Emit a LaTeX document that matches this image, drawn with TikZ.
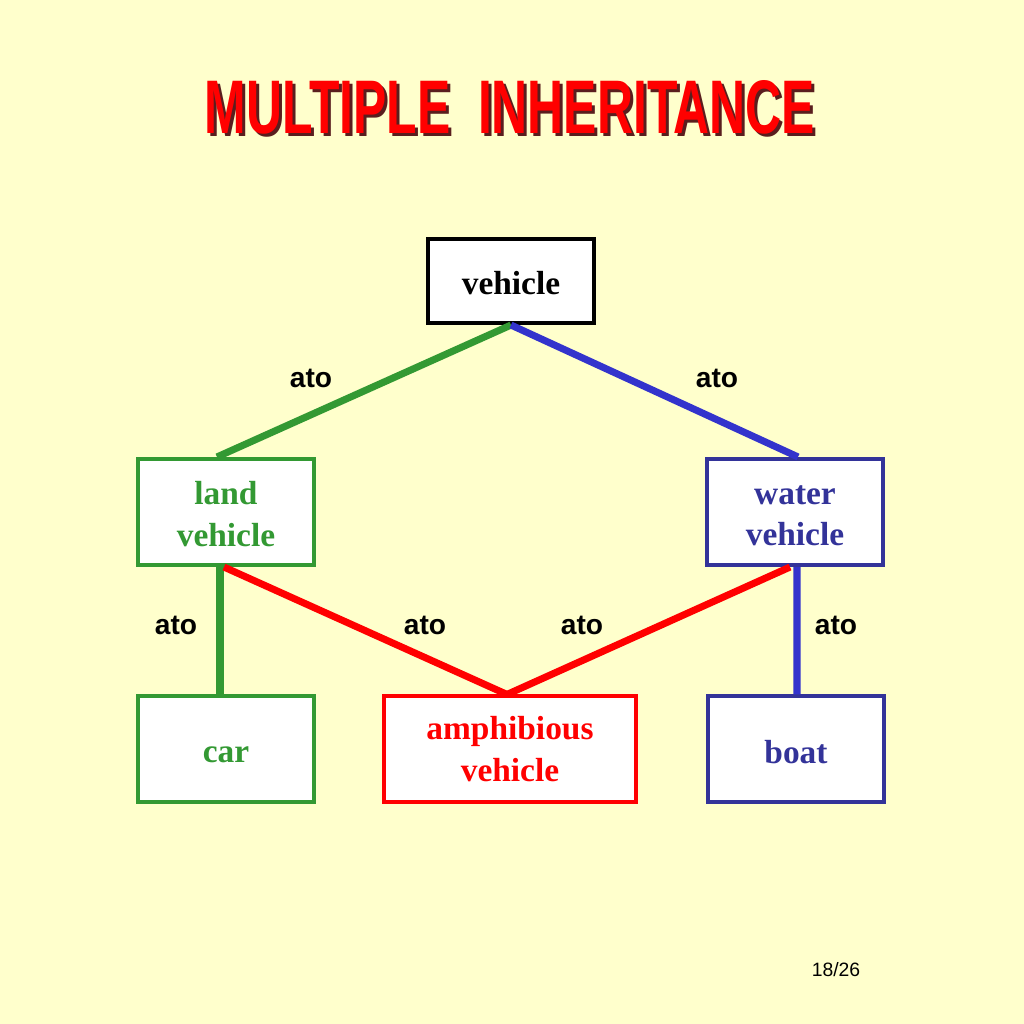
\documentclass[tikz,border=0pt]{standalone}
\usepackage{fontspec}
\setmainfont{Liberation Serif}
\setsansfont{Liberation Sans}
\usepackage{tikz}

\definecolor{paper}{RGB}{255,255,204}
\definecolor{landgreen}{RGB}{51,153,51}
\definecolor{waterblue}{RGB}{51,51,153}
\definecolor{lineblue}{RGB}{51,51,204}
\definecolor{titleshadow}{RGB}{90,30,30}

\tikzset{
  classbox/.style={draw, line width=1.15pt, fill=white, align=center,
    minimum width=1.76cm, minimum height=1.06cm, inner sep=0pt,
    font=\bfseries\fontsize{9.5}{11.7}\selectfont},
  link/.style={line width=2pt},
  atolabel/.style={font=\sffamily\bfseries\fontsize{8}{9}\selectfont}
}

\newcommand{\titletext}{\resizebox{6.1cm}{0.53cm}{\sffamily\bfseries MULTIPLE\ \ INHERITANCE}}
\newcommand{\lowered}[2]{\raisebox{-#1}[\height][\depth]{#2}}

\begin{document}
\begin{tikzpicture}[x=0.01cm, y=-0.01cm]
    \fill[paper] (0,0) rectangle (1024,1024);
    \useasboundingbox (0,0) rectangle (1024,1024);

    % title
    \node[text=titleshadow, inner sep=0pt] (titleshade) at (513,110) {\titletext};
    \node[text=red, inner sep=0pt] (title) at (510,107) {\titletext};

    % classes
    \node[classbox, minimum width=1.66cm, minimum height=0.84cm] (vehicle) at (511,281) {\lowered{0.02cm}{vehicle}};
    \node[classbox, draw=landgreen, text=landgreen] (land) at (226,512) {\lowered{0.02cm}{land}\\\lowered{0.02cm}{vehicle}};
    \node[classbox, draw=waterblue, text=waterblue] (water) at (795,512) {\lowered{0.04cm}{water}\\\lowered{0.04cm}{vehicle}};
    \node[classbox, draw=landgreen, text=landgreen, minimum height=1.05cm] (car) at (226,749) {\lowered{0.06cm}{car}};
    \node[classbox, draw=red, text=red, minimum width=2.51cm, minimum height=1.05cm] (amphi) at (510,749) {amphibious\\vehicle};
    \node[classbox, draw=waterblue, text=waterblue, minimum height=1.05cm] (boat) at (796,749) {\lowered{0.03cm}{boat}};

    % ato links
    \draw[link, landgreen] (vehicle.south) -- ([xshift=-0.09cm]land.north);
    \draw[link, lineblue] (vehicle.south) -- ([xshift=0.03cm]water.north);
    \draw[link, landgreen] ([xshift=-0.06cm]land.south) -- ([xshift=-0.06cm]car.north);
    \draw[link, red] ([xshift=-0.02cm]land.south) -- ([xshift=-0.03cm]amphi.north);
    \draw[link, red] ([xshift=-0.05cm]water.south) -- ([xshift=-0.03cm]amphi.north);
    \draw[link, lineblue] ([xshift=0.02cm]water.south) -- ([xshift=0.01cm]boat.north);

    \node[atolabel] (ato1) at (311,378) {ato};
    \node[atolabel] (ato2) at (717,378) {ato};
    \node[atolabel] (ato3) at (176,625) {ato};
    \node[atolabel] (ato4) at (425,625) {ato};
    \node[atolabel] (ato5) at (582,625) {ato};
    \node[atolabel] (ato6) at (836,625) {ato};

    \node[font=\sffamily\fontsize{5.5}{6}\selectfont] (page) at (836,970) {18/26};
\end{tikzpicture}
\end{document}
